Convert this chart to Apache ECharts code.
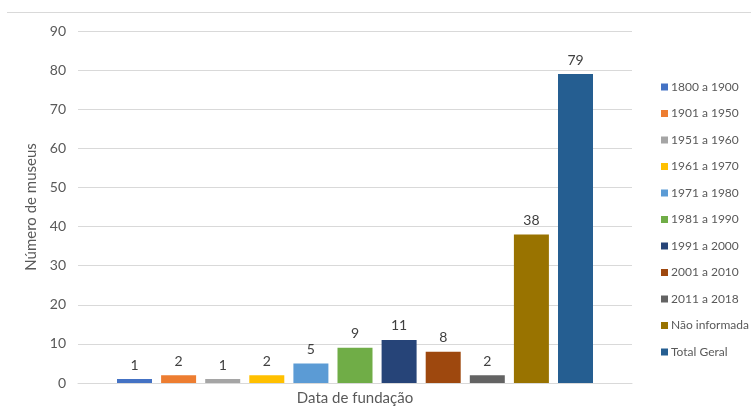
<!DOCTYPE html>
<html><head><meta charset="utf-8">
<script src="https://cdn.jsdelivr.net/npm/echarts@6/dist/echarts.min.js"></script>
<style>html,body{margin:0;padding:0;background:#fff}#c{width:751px;height:420px}</style>
</head><body><div id="c"></div>
<script>
const seriesNames = ['1800 a 1900','1901 a 1950','1951 a 1960','1961 a 1970','1971 a 1980','1981 a 1990','1991 a 2000','2001 a 2010','2011 a 2018','Não informada','Total Geral'];
const values = [1,2,1,2,5,9,11,8,2,38,79];
const colors = ['#4472C4','#ED7D31','#A5A5A5','#FFC000','#5B9BD5','#70AD47','#264478','#9E480E','#636363','#997300','#255E91'];
const categories = ['Data de fundação'];
const yTicks = {min:0, max:90, interval:10};

const font = 'Lato, "Open Sans", sans-serif';
const chart = echarts.init(document.getElementById('c'), null, {renderer:'canvas'});
const series = seriesNames.map((n,i)=>({
  name:n, type:'bar', data:[values[i]], barWidth:35, barGap:'26%',
  itemStyle:{color:colors[i]},
  label:{show:true, position:'top', distance:7, color:'#404040', fontSize:14, fontFamily:font}
}));
chart.setOption({
  animation:false,
  textStyle:{fontFamily:font},
  grid:{left:78, right:119, top:31, bottom:37},
  legend:{orient:'vertical', left:656, top:76, itemWidth:7, itemHeight:7, itemGap:14.5,
    icon:'rect', textStyle:{color:'#595959', fontSize:12, fontFamily:font, padding:[0,0,0,-2]},
    data:seriesNames},
  xAxis:{type:'category', data:categories, axisTick:{show:false}, axisLabel:{show:false},
    axisLine:{lineStyle:{color:'#d9d9d9', width:1}},
    name:'Data de fundação', nameLocation:'middle', nameGap:8,
    nameTextStyle:{color:'#595959', fontSize:15, fontFamily:font}},
  yAxis:{type:'value', min:yTicks.min, max:yTicks.max, interval:yTicks.interval,
    axisLabel:{color:'#595959', fontSize:14, margin:12, fontFamily:font},
    splitLine:{lineStyle:{color:'#d9d9d9', width:1}},
    name:'Número de museus', nameLocation:'middle', nameGap:37,
    nameTextStyle:{color:'#595959', fontSize:15, fontFamily:font}},
  graphic:[{type:'line', shape:{x1:7,y1:12.5,x2:751,y2:12.5}, style:{stroke:'#d9d9d9', lineWidth:1}}],
  series:series
});
</script></body></html>
